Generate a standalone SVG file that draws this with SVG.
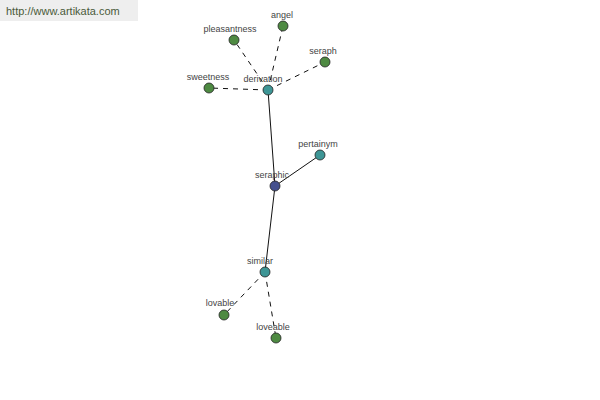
<svg xmlns="http://www.w3.org/2000/svg" width="600" height="400" viewBox="0 0 600 400">
<style>
.lbl{font-family:"Liberation Sans",Arial,sans-serif;font-size:9px;fill:#444;text-anchor:middle}
.n{stroke:#222;stroke-width:0.8}
.g{fill:#4e8a42}
.t{fill:#3e9696}
.b{fill:#44508e}
.d{stroke:#111;stroke-width:1;stroke-dasharray:5,5;fill:none}
.s{stroke:#111;stroke-width:1;fill:none}
</style>
<rect width="600" height="400" fill="#fff"/>
<rect x="0" y="0" width="138" height="21" fill="#eeeeee"/>
<text x="6" y="15" style="font-family:'Liberation Sans',Arial,sans-serif;font-size:11px;fill:#4a5a3a">http://www.artikata.com</text>
<g id="connectors">
<line class="d" x1="268" y1="90" x2="283" y2="26"/>
<line class="d" x1="268" y1="90" x2="234" y2="40"/>
<line class="d" x1="268" y1="90" x2="325" y2="62"/>
<line class="d" x1="268" y1="90" x2="209" y2="88"/>
<line class="s" x1="268" y1="90" x2="275" y2="186"/>
<line class="s" x1="275" y1="186" x2="320" y2="155"/>
<line class="s" x1="275" y1="186" x2="265" y2="272"/>
<line class="d" x1="265" y1="272" x2="224" y2="315"/>
<line class="d" x1="265" y1="272" x2="276" y2="338"/>
</g>
<g id="angel"><circle class="n g" cx="283" cy="26" r="5"/><text class="lbl" x="282" y="18">angel</text></g>
<g id="pleasantness"><circle class="n g" cx="234" cy="40" r="5"/><text class="lbl" x="230" y="32">pleasantness</text></g>
<g id="seraph"><circle class="n g" cx="325" cy="62" r="5"/><text class="lbl" x="323" y="54">seraph</text></g>
<g id="sweetness"><circle class="n g" cx="209" cy="88" r="5"/><text class="lbl" x="208" y="80">sweetness</text></g>
<g id="derivation"><circle class="n t" cx="268" cy="90" r="5"/><text class="lbl" x="263" y="82">derivation</text></g>
<g id="pertainym"><circle class="n t" cx="320" cy="155" r="5"/><text class="lbl" x="318" y="147">pertainym</text></g>
<g id="seraphic"><circle class="n b" cx="275" cy="186" r="5"/><text class="lbl" x="272" y="178">seraphic</text></g>
<g id="similar"><circle class="n t" cx="265" cy="272" r="5"/><text class="lbl" x="260" y="264">similar</text></g>
<g id="lovable"><circle class="n g" cx="224" cy="315" r="5"/><text class="lbl" x="220" y="306">lovable</text></g>
<g id="loveable"><circle class="n g" cx="276" cy="338" r="5"/><text class="lbl" x="273" y="330">loveable</text></g>
</svg>
